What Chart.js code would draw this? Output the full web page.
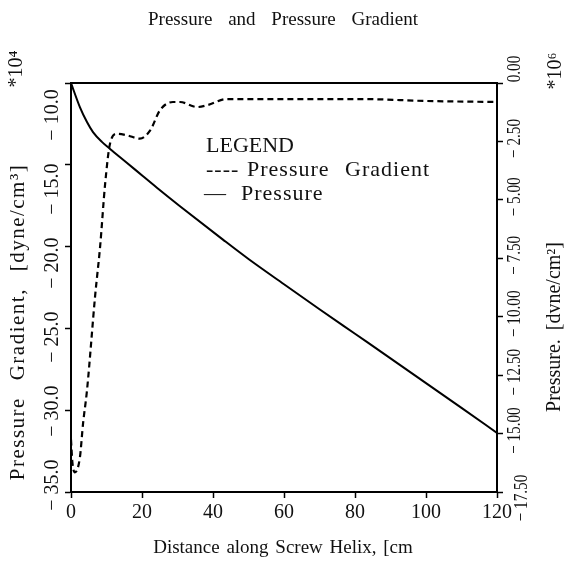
<!DOCTYPE html>
<html>
<head>
<meta charset="utf-8">
<script src="https://cdn.jsdelivr.net/npm/chart.js@4.4.1/dist/chart.umd.min.js"></script>
<style>
html,body{margin:0;padding:0;background:#fff;}
#wrap{width:566px;height:565px;position:relative;}
</style>
</head>
<body>
<div id="wrap"><canvas id="c"></canvas></div>
<script>
// ---- data ----
const gradDistance = [0, 0.4, 1.1, 2.5, 3.4, 4.5, 6.8, 8.2, 9.6, 11.0, 13.0, 15.8, 19.4, 22.3, 25.1, 28.7, 30.7, 35.5, 38.6, 43.9, 53.2, 81.4, 100.3, 120];
const pressureGradient = [-31.8, -33.2, -33.8, -32.9, -30.8, -28.8, -23.0, -20.0, -16.2, -13.7, -13.1, -13.2, -13.4, -12.9, -11.65, -11.16, -11.16, -11.47, -11.34, -10.98, -10.98, -10.98, -11.1, -11.16];
const presDistance = [0, 2.5, 4.5, 6.2, 8.7, 11, 15.8, 20.3, 24.2, 30.7, 42.8, 50, 60, 70, 80, 90, 100, 110, 120];
const pressure = [0, -1.03, -1.67, -2.10, -2.52, -2.82, -3.42, -3.99, -4.48, -5.27, -6.70, -7.53, -8.61, -9.68, -10.73, -11.78, -12.84, -13.9, -14.97];

const xTicks = [0, 20, 40, 60, 80, 100, 120];
const leftTicks = [-35, -30, -25, -20, -15, -10];
const rightTicks = [-17.5, -15, -12.5, -10, -7.5, -5, -2.5, 0];

const titleText = 'Pressure and Pressure Gradient';
const xTitle = 'Distance along Screw Helix, [cm';
const leftTitle = 'Pressure Gradient, [dyne/cm\u00B3]';
const leftExp = '*10\u2074';
const rightTitle = 'Pressure. [dvne/cm\u00B2]';
const rightExp = '*10\u2076';
const legendHead = 'LEGEND';
const seriesNames = ['Pressure Gradient', 'Pressure'];

const SERIF = '"Liberation Serif", "DejaVu Serif", serif';
const INK = '#111';

function minusFmt(v, dec) {
  if (v === 0) return (0).toFixed(dec);
  return (v < 0 ? '\u2212 ' : '') + Math.abs(v).toFixed(dec);
}

const textPlugin = {
  id: 'textPlugin',
  afterDraw(chart) {
    const ctx = chart.ctx;
    const ca = chart.chartArea;
    const yL = chart.scales.y, yR = chart.scales.y2;
    ctx.save();
    // top frame line
    ctx.strokeStyle = '#000';
    ctx.lineWidth = 2;
    ctx.beginPath();
    ctx.moveTo(ca.left - 1, ca.top);
    ctx.lineTo(ca.right + 1, ca.top);
    ctx.stroke();

    ctx.fillStyle = INK;
    ctx.textAlign = 'center';
    ctx.textBaseline = 'middle';

    // title
    ctx.font = '19px ' + SERIF;
    ctx.wordSpacing = '11px';
    ctx.fillText(titleText, 283, 20);
    // x title
    ctx.wordSpacing = '2px';
    ctx.fillText(xTitle, 283, 548);

    // left tick labels (rotated; the printed labels sit slightly compressed toward the middle)
    ctx.wordSpacing = '0px';
    ctx.font = '20px ' + SERIF;
    leftTicks.forEach(v => {
      const tp = yL.getPixelForValue(v);
      const py = 115 + (tp - ca.top) * 0.905;
      ctx.save();
      ctx.translate(53, py);
      ctx.rotate(-Math.PI / 2);
      ctx.fillText(minusFmt(v, 1), 0, 0);
      ctx.restore();
    });
    // right tick labels (rotated, condensed)
    ctx.font = '19px ' + SERIF;
    rightTicks.forEach(v => {
      let py = yR.getPixelForValue(v) - 3;
      let px = 515;
      if (v === 0) py -= 11;
      if (v === -17.5) { py += 9; px = 522; }
      ctx.save();
      ctx.translate(px, py);
      ctx.rotate(-Math.PI / 2);
      ctx.scale(0.8, 1);
      ctx.fillText(minusFmt(v, 2), 0, 0);
      ctx.restore();
    });

    // left title
    ctx.save();
    ctx.translate(18, 322);
    ctx.rotate(-Math.PI / 2);
    ctx.font = '21px ' + SERIF;
    ctx.letterSpacing = '1.5px';
    ctx.wordSpacing = '10px';
    ctx.fillText(leftTitle, 0, 0);
    ctx.restore();
    ctx.save();
    ctx.translate(17, 69);
    ctx.rotate(-Math.PI / 2);
    ctx.font = '20px ' + SERIF;
    ctx.fillText(leftExp, 0, 0);
    ctx.restore();

    // right title
    ctx.save();
    ctx.translate(555, 327);
    ctx.rotate(-Math.PI / 2);
    ctx.font = '20px ' + SERIF;
    ctx.wordSpacing = '4px';
    ctx.fillText(rightTitle, 0, 0);
    ctx.restore();
    ctx.save();
    ctx.translate(556, 71);
    ctx.rotate(-Math.PI / 2);
    ctx.font = '20px ' + SERIF;
    ctx.fillText(rightExp, 0, 0);
    ctx.restore();

    // legend (plain text)
    ctx.textAlign = 'left';
    ctx.font = '22px ' + SERIF;
    ctx.letterSpacing = '0px';
    ctx.fillText(legendHead, 206, 146);
    ctx.letterSpacing = '1px';
    ctx.wordSpacing = '9px';
    ctx.fillText('----', 206, 170);
    ctx.fillText(chart.data.datasets[0].label, 247, 170);
    ctx.fillText('\u2014', 204, 194);
    ctx.fillText(chart.data.datasets[1].label, 241, 194);
    ctx.restore();
  }
};

const axisGrid = {
  drawOnChartArea: false,
  drawTicks: true,
  tickLength: 6,
  tickColor: '#000',
  tickWidth: 1.5,
  color: '#000'
};
const axisBorder = { display: true, color: '#000', width: 2 };

new Chart(document.getElementById('c'), {
  type: 'line',
  data: {
    datasets: [
      {
        label: seriesNames[0],
        data: gradDistance.map((d, i) => ({ x: d, y: pressureGradient[i] })),
        yAxisID: 'y',
        borderColor: '#000',
        borderWidth: 2.2,
        borderDash: [6, 4],
        pointRadius: 0,
        fill: false,
        cubicInterpolationMode: 'monotone'
      },
      {
        label: seriesNames[1],
        data: presDistance.map((d, i) => ({ x: d, y: pressure[i] })),
        yAxisID: 'y2',
        borderColor: '#000',
        borderWidth: 2,
        pointRadius: 0,
        fill: false,
        cubicInterpolationMode: 'monotone'
      }
    ]
  },
  options: {
    responsive: true,
    maintainAspectRatio: false,
    animation: false,
    devicePixelRatio: 1,
    layout: { padding: { left: 0, right: 0, top: 83, bottom: 0 } },
    plugins: { legend: { display: false }, title: { display: false }, tooltip: { enabled: false } },
    scales: {
      x: {
        type: 'linear',
        min: xTicks[0],
        max: xTicks[xTicks.length - 1],
        afterBuildTicks: s => { s.ticks = xTicks.map(v => ({ value: v })); },
        afterFit: s => { s.height = 73; },
        grid: axisGrid,
        border: axisBorder,
        ticks: {
          color: INK,
          padding: 3,
          maxRotation: 0,
          font: { family: SERIF, size: 20 },
          callback: v => String(v)
        }
      },
      y: {
        type: 'linear',
        position: 'left',
        min: leftTicks[0],
        max: leftTicks[leftTicks.length - 1],
        afterBuildTicks: s => { s.ticks = leftTicks.map(v => ({ value: v })); },
        afterFit: s => { s.width = 71; },
        grid: axisGrid,
        border: axisBorder,
        ticks: { display: false }
      },
      y2: {
        type: 'linear',
        position: 'right',
        min: rightTicks[0],
        max: rightTicks[rightTicks.length - 1],
        afterBuildTicks: s => { s.ticks = rightTicks.map(v => ({ value: v })); },
        afterFit: s => { s.width = 69; },
        grid: axisGrid,
        border: axisBorder,
        ticks: { display: false }
      }
    }
  },
  plugins: [textPlugin]
});
</script>
</body>
</html>
